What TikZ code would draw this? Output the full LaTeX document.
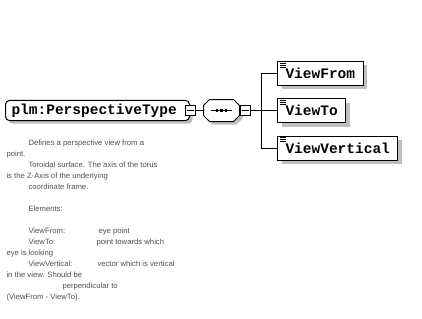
\documentclass[tikz,border=0pt]{standalone}
\usepackage{fontspec}
\setmainfont{Liberation Sans}
\newfontfamily\boxfont{Liberation Mono}
\usetikzlibrary{shadows}

\definecolor{doctext}{RGB}{80,80,80}

\begin{document}
\begin{tikzpicture}[x=1pt, y=1pt, line width=1pt,
    shade/.style={drop shadow={shadow xshift=4pt, shadow yshift=-4pt, fill=black!25, opacity=1}},
    elem/.style={draw, fill=white, anchor=west, minimum height=24pt, inner xsep=8pt,
      font=\boxfont\bfseries\fontsize{14.5}{16}\selectfont, shade},
    minus/.style={draw, fill=white, minimum size=10pt, inner sep=0pt},
    desc/.style={anchor=north west, inner sep=0pt, align=left, text=doctext,
      font=\fontsize{7.7}{11}\selectfont}]
  \useasboundingbox (0,0) rectangle (422,-318);

  % the complex type
  \node[draw, fill=white, rounded corners=4pt, anchor=west, minimum height=19pt,
    text width=172pt, inner xsep=6pt, font=\boxfont\bfseries\fontsize{14.5}{16}\selectfont,
    drop shadow={shadow xshift=3pt, shadow yshift=-3pt, fill=black!25, opacity=1}]
    (type) at (5,-110.5) {plm:PerspectiveType};
  \node[minus] (m1) at (190,-110.5) {};

  % sequence
  \node[minimum width=35pt, minimum height=21pt, inner sep=0pt] (seq) at (221.5,-110.5) {};
  \draw[fill=white, drop shadow={shadow xshift=3pt, shadow yshift=-3pt, fill=black!25, opacity=1}]
    ([xshift=6pt]seq.north west) -- ([xshift=-6pt]seq.north east)
    -- ([yshift=-6pt]seq.north east) -- ([yshift=6pt]seq.south east)
    -- ([xshift=-6pt]seq.south east) -- ([xshift=6pt]seq.south west)
    -- ([yshift=6pt]seq.south west) -- ([yshift=-6pt]seq.north west) -- cycle;
  \draw ([xshift=-11pt]seq.center) -- ([xshift=10pt]seq.center);
  \foreach \x in {-4.5,0,4.5}
    \fill ([xshift=\x pt]seq.center) +(-1.4,-1.4) rectangle +(1.4,1.4);
  \node[minus] (m2) at (245,-110.5) {};
  \coordinate (fork) at (261,-110.5);

  % elements
  \node[elem] (vf) at (277,-73.5) {ViewFrom};
  \node[elem] (vt) at (277,-110.5) {ViewTo};
  \node[elem] (vv) at (277,-148) {ViewVertical};
  \foreach \n in {vf,vt,vv}
    \foreach \k in {2,4,6}
      \draw[line width=0.7pt] ([xshift=3pt,yshift=-\k pt]\n.north west) -- ++(6,0);

  % connectors
  \foreach \m in {m1,m2}
    \draw ([xshift=2pt]\m.west) -- ([xshift=-2pt]\m.east);
  \draw (m1.east) -- (seq.west);
  \draw (seq.east) -- (m2.west);
  \draw (m2.east) -- (fork);
  \draw (fork |- vf.west) -- (fork |- vv.west);
  \foreach \n in {vf,vt,vv}
    \draw (fork |- \n.west) -- (\n.west);

  % documentation
  \node[desc] (doc) at (6,-139.5) {%
    \hspace*{22pt}Defines a perspective view from a\\
    point.\\
    \hspace*{22pt}Toroidal surface. The axis of the torus\\
    is the Z-Axis of the underlying\\
    \hspace*{22pt}coordinate frame.\\
    \mbox{}\\
    \hspace*{22pt}Elements:\\
    \mbox{}\\
    \hspace*{22pt}\makebox[70pt][l]{ViewFrom:}eye point\\
    \hspace*{22pt}\makebox[68pt][l]{ViewTo:}point towards which\\
    eye is looking\\
    \hspace*{22pt}\makebox[69pt][l]{ViewVertical:}vector which is vertical\\
    in the view. Should be\\
    \hspace*{56pt}perpendicular to\\
    (ViewFrom - ViewTo).};
\end{tikzpicture}
\end{document}
